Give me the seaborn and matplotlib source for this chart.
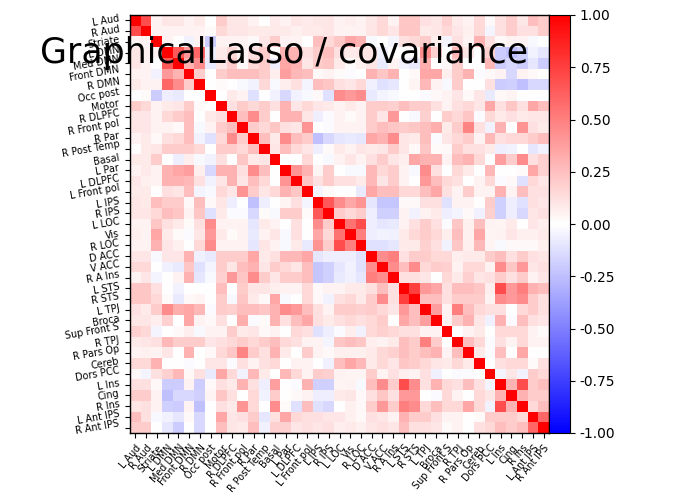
import numpy as np
import matplotlib
matplotlib.use("Agg")
import matplotlib.pyplot as plt
import seaborn as sns


TITULO = "GraphicalLasso / covariance"

etiquetas = ["L Aud", "R Aud", "Striate", "L DMN", "Med DMN", "Front DMN", "R DMN",
             "Occ post", "Motor", "R DLPFC", "R Front pol", "R Par", "R Post Temp",
             "Basal", "L Par", "L DLPFC", "L Front pol", "L IPS", "R IPS", "L LOC",
             "Vis", "R LOC", "D ACC", "V ACC", "R A Ins", "L STS", "R STS", "L TPJ",
             "Broca", "Sup Front S", "R TPJ", "R Pars Op", "Cereb", "Dors PCC",
             "L Ins", "Cing", "R Ins", "L Ant IPS", "R Ant IPS"]

# triangulo inferior de la covarianza, fila por fila (diagonal incluida)
triangulo = [
    [1],
    [0.7, 1],
    [0.05, 0.05, 1],
    [0.1, 0.05, 0.05, 1],
    [0.1, 0.05, 0.0, 0.65, 1],
    [0.05, 0.05, -0.05, 0.4, 0.3, 1],
    [0.08, 0.05, 0.05, 0.6, 0.45, 0.2, 1],
    [0.0, 0.02, -0.2, -0.07, -0.08, 0.0, 0.0, 1],
    [0.2, 0.15, 0.05, 0.08, 0.1, 0.2, 0.02, 0.0, 1],
    [0.1, 0.1, 0.05, 0.15, 0.2, 0.25, 0.0, 0.08, 0.12, 1],
    [0.1, 0.1, 0.05, 0.05, 0.03, 0.25, -0.03, 0.05, 0.2, 0.25, 1],
    [0.05, 0.08, 0.03, 0.12, 0.15, 0.25, -0.05, -0.12, 0.15, 0.45, 0.2, 1],
    [0.0, 0.08, 0.1, 0.2, 0.2, 0.2, 0.15, 0.0, 0.2, 0.2, 0.15, 0.25, 1],
    [0.08, 0.08, 0.2, 0.0, -0.07, 0.07, -0.03, -0.05, 0.12, 0.0, 0.22, 0.08, 0.1, 1],
    [0.05, 0.08, 0.05, 0.3, 0.35, 0.38, 0.07, -0.15, 0.3, 0.3, 0.12, 0.45, 0.25, 0.0, 1],
    [0.1, 0.06, 0.05, 0.3, 0.3, 0.28, 0.12, -0.05, 0.1, 0.3, 0.1, 0.25, 0.15, 0.0, 0.42, 1],
    [0.08, 0.08, 0.0, 0.12, 0.1, 0.25, -0.04, -0.03, 0.15, 0.1, 0.42, 0.2, 0.1, 0.15, 0.3, 0.22, 1],
    [0.1, 0.08, 0.25, 0.2, 0.2, 0.03, 0.25, 0.03, 0.1, -0.07, 0.0, -0.25, -0.07, 0.0, 0.04, 0.12,
     -0.04, 1],
    [0.1, 0.1, 0.15, 0.25, 0.22, 0.05, 0.22, -0.12, 0.08, -0.02, -0.02, -0.15, 0.02, -0.03, 0.2,
     0.2, 0.02, 0.65, 1],
    [0.05, 0.05, 0.22, 0.12, 0.08, 0.02, 0.12, 0.45, 0.05, 0.05, 0.05, -0.1, 0.08, 0.05, 0.0,
     0.12, 0.0, 0.45, 0.2, 1],
    [0.07, 0.05, 0.35, 0.08, 0.02, -0.02, 0.1, 0.4, 0.08, 0.02, 0.05, -0.08, 0.05, 0.1, -0.03,
     0.12, 0.0, 0.35, 0.15, 0.55, 1],
    [0.05, 0.05, 0.3, 0.1, 0.06, 0.0, 0.15, 0.45, 0.05, 0.05, 0.05, -0.1, 0.1, 0.05, -0.03,
     0.08, -0.08, 0.42, 0.2, 0.7, 0.5, 1],
    [0.1, 0.1, -0.03, 0.1, 0.1, 0.3, -0.06, -0.08, 0.2, 0.2, 0.2, 0.35, 0.08, 0.12, 0.28,
     0.28, 0.35, -0.1, -0.07, -0.07, -0.07, -0.12, 1],
    [0.15, 0.15, 0.0, -0.06, -0.08, 0.22, -0.12, -0.04, 0.2, 0.1, 0.25, 0.3, 0.1, 0.2, 0.15,
     0.1, 0.25, -0.22, -0.18, -0.1, -0.05, -0.12, 0.45, 1],
    [0.05, 0.1, -0.04, 0.0, 0.05, 0.3, -0.1, -0.03, 0.18, 0.4, 0.22, 0.45, 0.2, 0.1, 0.2,
     0.2, 0.25, -0.22, -0.18, -0.08, -0.06, -0.1, 0.5, 0.45, 1],
    [0.22, 0.22, 0.12, 0.0, -0.05, 0.0, 0.0, 0.0, 0.25, 0.0, 0.2, 0.1, 0.1, 0.07, 0.05,
     0.05, 0.15, 0.03, 0.05, 0.05, 0.08, 0.08, 0.12, 0.25, 0.12, 1],
    [0.22, 0.22, 0.15, 0.02, -0.08, 0.03, 0.04, 0.0, 0.2, -0.03, 0.22, 0.08, 0.03, 0.35, -0.03,
     0.0, 0.15, 0.03, -0.05, 0.12, 0.15, 0.08, 0.2, 0.45, 0.12, 0.75, 1],
    [0.12, 0.08, 0.2, 0.45, 0.32, 0.35, 0.28, -0.02, 0.2, 0.18, 0.25, 0.25, 0.22, 0.3, 0.45,
     0.4, 0.25, 0.12, 0.05, 0.2, 0.2, 0.18, 0.2, 0.15, 0.1, 0.4, 0.25, 1],
    [0.1, 0.1, 0.07, 0.18, 0.0, 0.35, 0.05, 0.03, 0.12, 0.0, 0.32, -0.02, 0.02, 0.3, 0.12,
     0.25, 0.35, 0.12, 0.08, 0.12, 0.15, 0.12, 0.15, 0.2, 0.0, 0.35, 0.25, 0.38, 1],
    [0.18, 0.15, -0.04, 0.0, 0.03, 0.07, -0.03, 0.05, 0.05, 0.2, 0.08, 0.1, 0.03, 0.05, 0.0,
     0.15, 0.12, -0.12, -0.07, -0.02, 0.07, -0.05, 0.15, 0.18, 0.15, 0.12, 0.12, 0.05, 0.05, 1],
    [0.08, 0.1, 0.12, 0.28, 0.2, 0.2, 0.2, 0.1, 0.12, 0.15, 0.2, 0.15, 0.2, 0.25, 0.15,
     0.12, 0.05, 0.05, -0.04, 0.22, 0.25, 0.22, 0.07, 0.05, 0.08, 0.25, 0.2, 0.5, 0.2, 0.0, 1],
    [0.05, 0.06, 0.05, 0.1, 0.0, 0.3, 0.0, 0.03, 0.15, 0.22, 0.48, 0.2, 0.12, 0.3, 0.08,
     0.0, 0.2, 0.05, 0.03, 0.06, 0.06, 0.06, 0.08, 0.15, 0.18, 0.25, 0.2, 0.25, 0.3, 0.05,
     0.25, 1],
    [0.15, 0.15, 0.3, 0.0, 0.0, -0.02, 0.0, 0.1, 0.1, -0.02, 0.12, 0.05, 0.12, 0.15, 0.0,
     0.05, 0.05, 0.0, -0.06, 0.25, 0.35, 0.28, 0.08, 0.15, 0.1, 0.22, 0.2, 0.15, 0.1, 0.08,
     0.15, 0.08, 1],
    [0.03, -0.04, 0.12, 0.18, 0.28, 0.03, 0.12, -0.08, 0.35, 0.15, -0.05, 0.28, 0.08, 0.0, 0.28,
     0.15, 0.05, 0.2, 0.18, 0.05, 0.04, 0.04, 0.2, 0.05, 0.12, 0.07, 0.05, 0.12, -0.06, 0.0,
     -0.02, -0.02, 0.0, 1],
    [0.12, 0.12, 0.03, -0.2, -0.2, 0.05, -0.2, 0.03, 0.12, 0.08, 0.3, 0.12, -0.07, 0.38, 0.0,
     -0.02, 0.3, -0.18, -0.18, 0.04, 0.05, -0.03, 0.25, 0.45, 0.2, 0.7, 0.45, 0.12, 0.3, 0.15,
     0.12, 0.25, 0.12, -0.04, 1],
    [0.2, 0.2, 0.05, -0.25, -0.15, -0.15, -0.18, 0.04, 0.22, 0.12, 0.0, 0.15, -0.05, 0.2, 0.0,
     0.03, 0.05, -0.07, -0.07, 0.08, 0.1, 0.03, 0.12, 0.22, 0.12, 0.4, 0.4, 0.0, -0.02, 0.15,
     0.05, 0.0, 0.15, 0.1, 0.3, 1],
    [0.1, 0.12, 0.05, -0.18, -0.2, 0.05, -0.25, 0.0, 0.12, 0.08, 0.42, 0.15, 0.0, 0.45, 0.02,
     -0.12, 0.25, -0.12, -0.15, 0.0, 0.06, 0.03, 0.2, 0.4, 0.2, 0.5, 0.45, 0.15, 0.25, 0.15,
     0.15, 0.35, 0.15, -0.05, 0.7, 0.3, 1],
    [0.25, 0.12, -0.03, -0.05, -0.1, 0.03, -0.15, 0.0, 0.35, 0.1, 0.12, 0.2, -0.1, 0.12, 0.35,
     0.15, 0.12, 0.12, 0.1, 0.1, 0.06, 0.03, 0.12, 0.1, 0.05, 0.3, 0.2, 0.2, 0.12, 0.05,
     0.05, 0.0, 0.02, 0.2, 0.2, 0.2, 0.15, 1],
    [0.2, 0.2, 0.0, -0.1, -0.2, 0.0, -0.15, 0.0, 0.25, 0.1, 0.08, 0.25, -0.05, 0.18, 0.18,
     0.1, 0.12, 0.1, 0.12, 0.07, 0.08, 0.06, 0.1, 0.12, 0.1, 0.25, 0.12, 0.12, 0.1, 0.02,
     0.05, 0.0, 0.12, 0.15, 0.25, 0.2, 0.25, 0.6, 1],
]

n = len(etiquetas)
matriz = np.zeros((n, n))
for i, fila in enumerate(triangulo):
    assert len(fila) == i + 1, i
    matriz[i, :i + 1] = fila
matriz = matriz + matriz.T - np.diag(np.diag(matriz))


fig = plt.figure(figsize=(7, 5), dpi=100)
ax = fig.add_axes([130 / 700, 67 / 500, 419 / 700, 418 / 500])
cax = fig.add_axes([549 / 700, 67 / 500, 21 / 700, 418 / 500])

sns.heatmap(matriz, cmap="bwr", vmin=-1, vmax=1, ax=ax, cbar_ax=cax,
            xticklabels=etiquetas, yticklabels=etiquetas)

ax.set_xticklabels(etiquetas, size="x-small", rotation=50, ha="right",
                   rotation_mode="anchor")
ax.set_yticklabels(etiquetas, size="x-small", rotation=10, va="center")
ax.tick_params(length=3.5, width=0.8)
for lado in ax.spines.values():
    lado.set_visible(True)
    lado.set_linewidth(1)
cax.tick_params(labelsize=10, length=3.5)
cbar = ax.collections[0].colorbar
cbar.outline.set_visible(True)
cbar.outline.set_linewidth(0.8)
cbar.set_ticks(np.arange(-1, 1.01, 0.25))
cbar.set_ticklabels(["%.2f" % v for v in np.arange(-1, 1.01, 0.25)])

ax.text(0.95, 0.95, TITULO, ha="right", va="top", transform=ax.transAxes,
        fontsize=25)

plt.savefig("out.png", dpi=100)
